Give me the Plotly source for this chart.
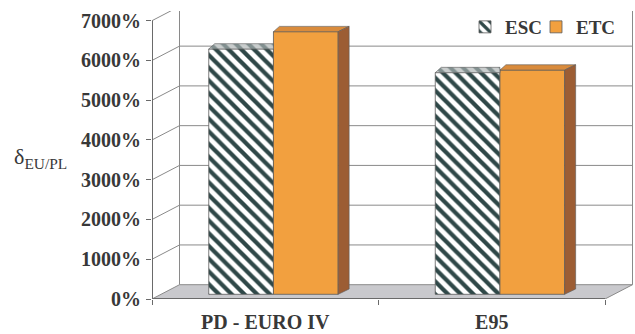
import plotly.graph_objects as go

# ---------------- data ----------------
categories = ["PD - EURO IV", "E95"]
esc_values = [6170, 5575]
etc_values = [6605, 5640]
series_names = ["ESC", "ETC"]
y_tick_values = [0, 1000, 2000, 3000, 4000, 5000, 6000, 7000]
y_tick_labels = ["0%", "1000%", "2000%", "3000%", "4000%", "5000%", "6000%", "7000%"]

# ---------------- geometry / style constants (pixels) ----------------
W, H = 635, 334
PLOT_L, PLOT_T, PLOT_B = 152, 11, 299
PX_PER_CAT = 226.5
PX_PER_VAL = 39.76 / 1000.0
WALL_DX, WALL_DY = 27.5, 14.3          # depth of the walls / floor
BAR_SHIFT_DX, BAR_SHIFT_DY = 8.2, 4.7  # bar plane offset from the front plane
BAR_W = 64.7
BAR_DX, BAR_DXL, BAR_DY = 11.0, 6.0, 5.3  # bar depth (right edge, left edge, up)

FONT = "Liberation Serif"
TXT = "#383838"
GRID = "#8a8a8a"
OUTLINE = "#5a5a5a"
ORANGE, ORANGE_TOP, ORANGE_SIDE = "#F2A03F", "#D98B3C", "#9C5D34"
HATCH_FG = "#2f4848"

ncat = len(categories)
plot_w = ncat * PX_PER_CAT + WALL_DX + 1.5
plot_h = PLOT_B - PLOT_T


def ux(px):
    return px / PX_PER_CAT


def uy(px):
    return px / PX_PER_VAL


x_range = [-0.5, -0.5 + plot_w / PX_PER_CAT]
y_range = [0, plot_h / PX_PER_VAL]
x_front_l, x_front_r = -0.5, ncat - 0.5
wdx, wdy = ux(WALL_DX), uy(WALL_DY)

fig = go.Figure()

xs = list(range(ncat))
base = uy(BAR_SHIFT_DY)
bw = ux(BAR_W)
shift = ux(BAR_SHIFT_DX)
hatch = dict(shape="\\", size=9, solidity=0.47, fgcolor=HATCH_FG, bgcolor="white", fillmode="replace")

fig.add_bar(x=xs, y=esc_values, base=[base] * ncat, width=bw, offset=shift - bw,
            name=series_names[0], legend="legend",
            marker=dict(color="white", pattern=hatch, line=dict(color=OUTLINE, width=0.8)))
fig.add_bar(x=xs, y=etc_values, base=[base] * ncat, width=bw, offset=shift,
            name=series_names[1], legend="legend2",
            marker=dict(color=ORANGE, line=dict(color=OUTLINE, width=0.8)))

ddx, ddxl, ddy = ux(BAR_DX), ux(BAR_DXL), uy(BAR_DY)

# ESC top faces (right part hidden behind ETC column)
for i in xs:
    x0 = i + shift - bw
    x1 = i + shift
    t = base + esc_values[i]
    fig.add_scatter(x=[x0, x1, x1, x0 + ddxl, x0], y=[t, t, t + ddy, t + ddy, t],
                    mode="lines", fill="toself", fillcolor="#c8cccc",
                    fillpattern=dict(shape="\\", size=9, solidity=0.45, fgcolor="#3c5454", bgcolor="#c9cdcd"),
                    line=dict(color=OUTLINE, width=0.6), showlegend=False, hoverinfo="skip")
# ETC top and side faces
for i in xs:
    x0 = i + shift
    x1 = x0 + bw
    t = base + etc_values[i]
    fig.add_scatter(x=[x0, x1, x1 + ddx, x0 + ddxl, x0], y=[t, t, t + ddy, t + ddy, t],
                    mode="lines", fill="toself", fillcolor=ORANGE_TOP,
                    line=dict(color=OUTLINE, width=0.6), showlegend=False, hoverinfo="skip")
    fig.add_scatter(x=[x1, x1, x1 + ddx, x1 + ddx, x1], y=[base, t, t + ddy, base + ddy, base],
                    mode="lines", fill="toself", fillcolor=ORANGE_SIDE,
                    line=dict(color=OUTLINE, width=0.6), showlegend=False, hoverinfo="skip")

shapes = []
# floor
shapes.append(dict(type="path", xref="x", yref="y", layer="below",
                   path=f"M{x_front_l},0 L{x_front_r},0 L{x_front_r + wdx},{wdy} L{x_front_l + wdx},{wdy} Z",
                   fillcolor="#c9c9cd", line=dict(color=GRID, width=1)))
# back wall and left wall grid lines
for v in y_tick_values[1:]:
    shapes.append(dict(type="line", xref="x", yref="y", layer="below",
                       x0=x_front_l + wdx, x1=x_front_r + wdx, y0=v + wdy, y1=v + wdy,
                       line=dict(color=GRID, width=1)))
    shapes.append(dict(type="line", xref="x", yref="y", layer="below",
                       x0=x_front_l, x1=x_front_l + wdx, y0=v, y1=v + wdy,
                       line=dict(color=GRID, width=1)))
# back wall verticals
for xv in (x_front_l + wdx, x_front_r + wdx):
    shapes.append(dict(type="line", xref="x", yref="y", layer="below",
                       x0=xv, x1=xv, y0=wdy, y1=y_range[1] * 1.05,
                       line=dict(color=GRID, width=1)))
# front value axis line and front floor edge
shapes.append(dict(type="line", xref="x", yref="y", layer="above",
                   x0=x_front_l, x1=x_front_l, y0=0, y1=y_tick_values[-1],
                   line=dict(color="#6a6a6a", width=2)))
shapes.append(dict(type="line", xref="x", yref="y", layer="above",
                   x0=x_front_l, x1=x_front_r, y0=0, y1=0,
                   line=dict(color="#6a6a6a", width=2)))

tick_font = dict(family=FONT, size=20, color=TXT, weight="bold")
legend_font = dict(family=FONT, size=19, color=TXT, weight="bold")

fig.update_layout(
    width=W, height=H,
    margin=dict(l=PLOT_L, r=W - PLOT_L - plot_w, t=PLOT_T, b=H - PLOT_B, autoexpand=False),
    paper_bgcolor="white", plot_bgcolor="white",
    barmode="overlay",
    shapes=shapes,
    showlegend=True,
    xaxis=dict(range=x_range, showgrid=False, zeroline=False, showline=False,
               tickmode="array", tickvals=xs, ticktext=categories, ticks="",
               tickfont=tick_font, ticklabelstandoff=9, automargin=False,
               minor=dict(tickmode="array", tickvals=[k - 0.5 for k in range(ncat + 1)],
                          ticks="outside", ticklen=5, tickcolor="#6a6a6a", tickwidth=1, showgrid=False)),
    yaxis=dict(range=y_range, showgrid=False, zeroline=False, showline=False,
               tickmode="array", tickvals=y_tick_values, ticktext=y_tick_labels,
               ticks="outside", ticklen=5, tickcolor="#6a6a6a", tickwidth=1,
               tickfont=tick_font, ticklabelstandoff=1, automargin=False),
    legend=dict(orientation="h", x=(465 - PLOT_L) / plot_w, y=(PLOT_B - 27) / plot_h,
                xanchor="left", yanchor="middle", bgcolor="rgba(0,0,0,0)", font=legend_font),
    legend2=dict(orientation="h", x=(536 - PLOT_L) / plot_w, y=(PLOT_B - 27) / plot_h,
                 xanchor="left", yanchor="middle", bgcolor="rgba(0,0,0,0)", font=legend_font),
    annotations=[dict(text="δ<sub>EU/PL</sub>", xref="paper", yref="paper",
                      x=(12 - PLOT_L) / plot_w, y=(PLOT_B - 158) / plot_h,
                      xanchor="left", yanchor="middle", showarrow=False,
                      font=dict(family=FONT, size=22, color=TXT))],
)

fig.write_html("out.html", config={"displayModeBar": False},
               post_script="document.body.style.margin='0px';")
